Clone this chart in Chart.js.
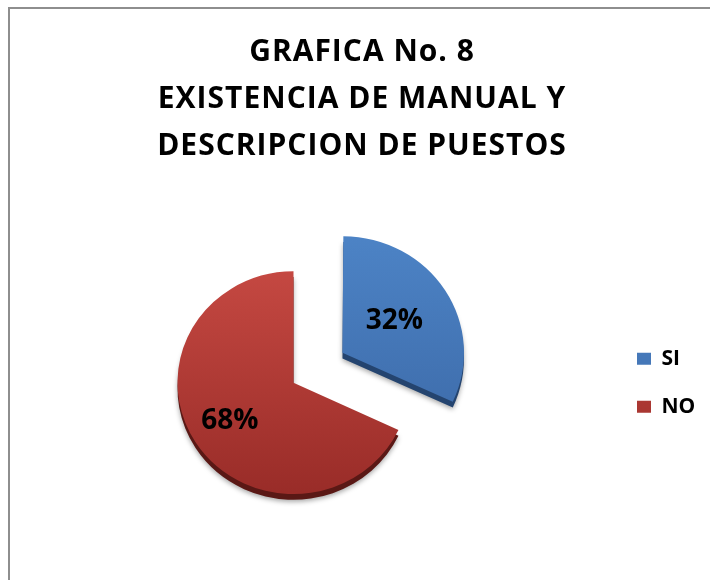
<!DOCTYPE html>
<html lang="es">
<head>
  <meta charset="UTF-8">
  <title>GRAFICA No. 8</title>
  <script src="https://cdn.jsdelivr.net/npm/chart.js"></script>
  <style>
    body {
      margin: 0;
      background: #fff;
    }

    #wrap {
      position: relative;
      width: 710px;
      height: 580px;
      overflow: hidden;
    }

    #frame {
      position: absolute;
      left: 8px;
      top: 7px;
      width: 760px;
      height: 640px;
      border: 2px solid #8e8e8e;
    }

    #pieChart {
      position: absolute;
      left: -23px;
      top: 0;
    }
  </style>
</head>
<body>

  <div id="wrap">
    <div id="frame"></div>
    <canvas id="pieChart" width="770" height="580"></canvas>
  </div>

  <script>
    const titleLines = ['GRAFICA No. 8', 'EXISTENCIA DE MANUAL Y', 'DESCRIPCION DE PUESTOS'];
    const categories = ['SI', 'NO'];
    const percents = [32, 68];

    const FONT = '"Open Sans", Lato, sans-serif';
    const RADIUS = 116;
    const TILT = 0.96;    // slight vertical squash, like the 3D original
    const EXPLODE = 58;   // px the SI slice is pulled out
    const DEPTH = 6;      // thickness of the 3D rim
    const LEGEND_W = 137;
    const LABEL_POS = [0.53, 0.65];

    const topColors = ['#4f87ca', '#cc4d46'];
    const bottomColors = ['#3b68a6', '#992c28'];
    const rimColors = ['#24446f', '#5a1815'];

    function sliceFill(context) {
      const chart = context.chart;
      const area = chart.chartArea;
      const i = context.dataIndex;
      if (!area) return topColors[i];
      const cy = (area.top + area.bottom) / 2;
      const g = chart.ctx.createLinearGradient(0, cy - RADIUS - 40, 0, cy + RADIUS);
      g.addColorStop(0, topColors[i]);
      g.addColorStop(1, bottomColors[i]);
      return g;
    }

    // fixed legend width so the pie sits left of centre,
    // and a little letter spacing on the title only (Calibri is wide)
    const boxTweaks = {
      id: 'boxTweaks',
      beforeInit(chart) {
        const fit = chart.legend.fit;
        chart.legend.fit = function () {
          fit.call(this);
          this.width = LEGEND_W;
        };
        const draw = chart.titleBlock.draw;
        chart.titleBlock.draw = function () {
          this.ctx.letterSpacing = '1px';
          draw.apply(this, arguments);
          this.ctx.letterSpacing = '0px';
        };
      }
    };

    // squash + dark rim + soft shadow under every slice
    const pieDepth = {
      id: 'pieDepth',
      beforeDatasetsDraw(chart) {
        const ctx = chart.ctx;
        const a = chart.chartArea;
        const cx = (a.left + a.right) / 2;
        const cy = (a.top + a.bottom) / 2;
        ctx.save();
        ctx.translate(cx, cy);
        ctx.scale(1, TILT);
        ctx.translate(-cx, -cy);
        chart.getDatasetMeta(0).data.forEach((arc, i) => {
          const saved = arc.options;
          arc.options = { ...saved, backgroundColor: rimColors[i], borderWidth: 0 };
          ctx.save();
          ctx.shadowColor = 'rgba(0,0,0,0.35)';
          ctx.shadowBlur = 5;
          ctx.shadowOffsetY = 2;
          ctx.translate(0, DEPTH);
          arc.draw(ctx);
          ctx.restore();
          arc.options = saved;
        });
      },
      afterDatasetsDraw(chart) {
        chart.ctx.restore();
      }
    };

    const sliceLabels = {
      id: 'sliceLabels',
      afterDatasetsDraw(chart) {
        const ctx = chart.ctx;
        ctx.save();
        ctx.font = 'bold 28px ' + FONT;
        ctx.fillStyle = '#000';
        ctx.textAlign = 'center';
        ctx.textBaseline = 'middle';
        chart.getDatasetMeta(0).data.forEach((arc, i) => {
          const half = (arc.startAngle + arc.endAngle) / 2;
          const dist = (arc.options.offset || 0) / 4 + arc.outerRadius * LABEL_POS[i];
          ctx.fillText(percents[i] + '%', arc.x + Math.cos(half) * dist, arc.y + Math.sin(half) * dist * TILT);
        });
        ctx.restore();
      }
    };

    new Chart(document.getElementById('pieChart'), {
      type: 'pie',
      data: {
        labels: categories,
        datasets: [{
          data: percents,
          backgroundColor: sliceFill,
          borderWidth: 0,
          offset: [EXPLODE * 4, 0]
        }]
      },
      options: {
        responsive: false,
        animation: false,
        radius: RADIUS,
        plugins: {
          title: {
            display: true,
            text: titleLines,
            color: '#000',
            font: { family: FONT, size: 30, weight: 'bold', lineHeight: 1.57 },
            padding: { top: 29, bottom: 15 }
          },
          legend: {
            position: 'right',
            fullSize: false,
            labels: {
              color: '#000',
              font: { family: FONT, size: 21, weight: 'bold' },
              boxWidth: 14,
              boxHeight: 12,
              padding: 27
            }
          },
          tooltip: { enabled: false }
        }
      },
      plugins: [boxTweaks, pieDepth, sliceLabels]
    });
  </script>

</body>
</html>
